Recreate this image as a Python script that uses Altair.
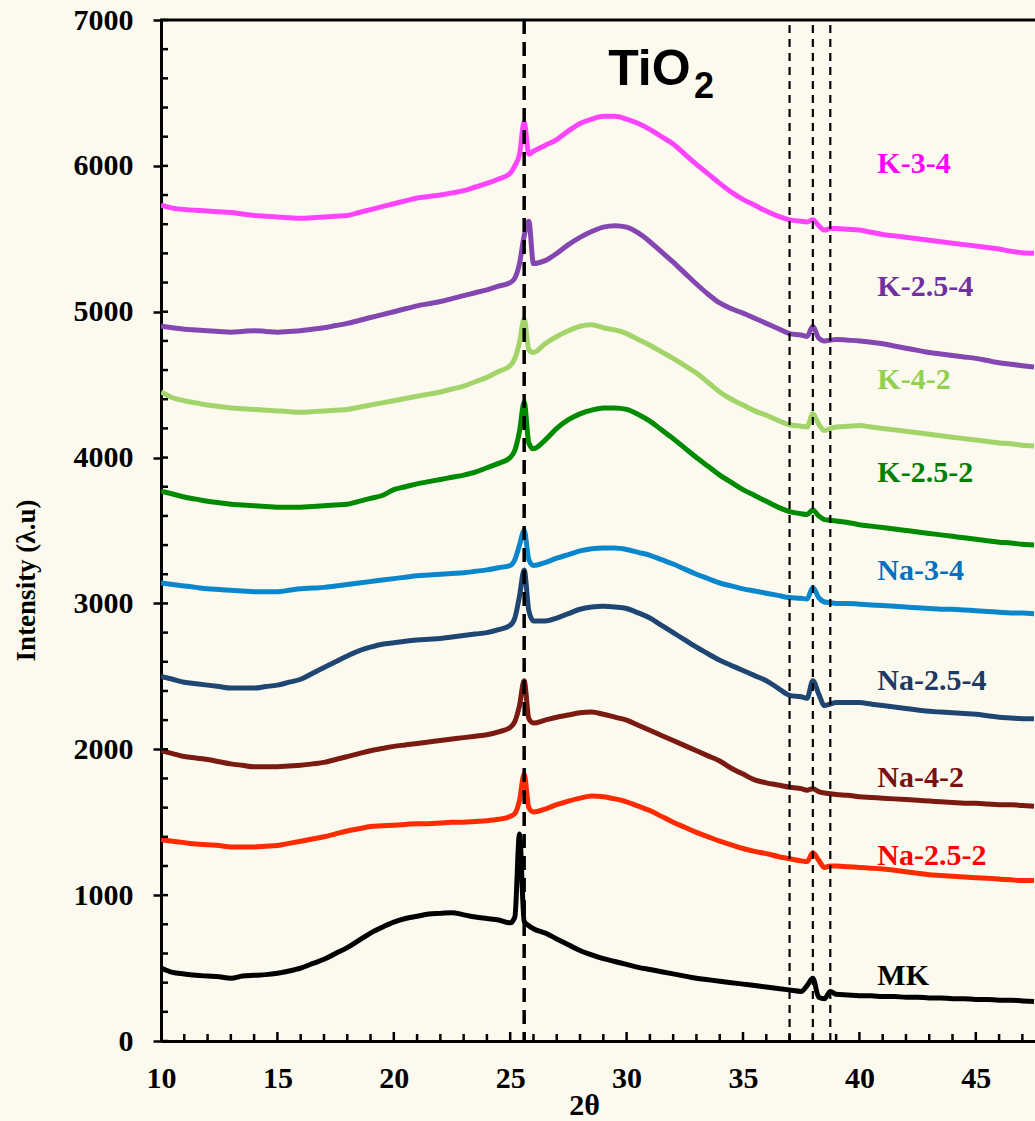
import altair as alt
import pandas as pd

# ---------------- data ----------------
X_DEG = ([10 + 0.5 * i for i in range(31)] + [25.2, 25.4, 25.6, 25.8, 26.0]
         + [26.5 + 0.5 * i for i in range(23)] + [37.75, 38.0, 38.25, 38.5, 38.75]
         + [39 + 0.5 * i for i in range(18)])

MK = [500, 470, 460, 450, 445, 440, 430, 445, 450, 455, 465, 480, 500, 530, 560, 600, 640, 690, 740, 780, 815, 840, 855, 870, 875, 880, 865, 850, 840, 830, 810,
      850, 1420, 820, 790, 770,
      740, 700, 660, 620, 590, 565, 545, 525, 505, 490, 475, 460, 445, 430, 420, 410, 400, 390, 380, 370, 360, 350, 340,
      380, 430, 300, 290, 340,
      320, 315, 310, 310, 305, 305, 300, 300, 295, 295, 290, 290, 285, 285, 280, 280, 275, 270]

NA_25_2 = [1380, 1370, 1360, 1350, 1345, 1340, 1330, 1330, 1330, 1335, 1340, 1355, 1370, 1385, 1400, 1420, 1440, 1455, 1470, 1475, 1480, 1485, 1490, 1490, 1495, 1500, 1500, 1505, 1510, 1520, 1540,
           1560, 1650, 1830, 1600, 1570,
           1590, 1620, 1645, 1665, 1680, 1675, 1660, 1640, 1610, 1580, 1540, 1500, 1465, 1430, 1400, 1370, 1345, 1320, 1300, 1285, 1265, 1250, 1235,
           1230, 1290, 1240, 1190, 1200,
           1200, 1195, 1190, 1185, 1180, 1170, 1160, 1150, 1140, 1135, 1130, 1125, 1120, 1115, 1110, 1105, 1100, 1100]

NA_4_2 = [1990, 1970, 1950, 1940, 1930, 1915, 1900, 1890, 1880, 1880, 1880, 1885, 1890, 1900, 1910, 1930, 1950, 1970, 1990, 2005, 2020, 2030, 2040, 2050, 2060, 2070, 2080, 2090, 2100, 2120, 2150,
          2190, 2300, 2470, 2210, 2180,
          2200, 2220, 2235, 2250, 2255, 2240, 2220, 2200, 2165, 2130, 2095, 2060, 2025, 1990, 1955, 1920, 1870, 1830, 1790, 1770, 1755, 1740, 1730,
          1720, 1730, 1710, 1700, 1695,
          1690, 1685, 1675, 1670, 1665, 1660, 1655, 1650, 1645, 1640, 1635, 1630, 1630, 1625, 1620, 1620, 1615, 1610]

NA_25_4 = [2500, 2480, 2460, 2450, 2440, 2430, 2420, 2420, 2420, 2430, 2440, 2460, 2480, 2520, 2560, 2600, 2640, 2675, 2700, 2720, 2730, 2740, 2750, 2755, 2760, 2770, 2780, 2790, 2800, 2820, 2850,
           2900, 3050, 3230, 2950, 2880,
           2880, 2900, 2930, 2960, 2975, 2980, 2975, 2965, 2935, 2900, 2850, 2800, 2750, 2700, 2655, 2610, 2575, 2540, 2505, 2470, 2420, 2370, 2360,
           2350, 2470, 2380, 2300, 2310,
           2320, 2320, 2320, 2310, 2300, 2290, 2280, 2270, 2260, 2255, 2250, 2245, 2240, 2230, 2220, 2215, 2210, 2210]

NA_3_4 = [3140, 3130, 3120, 3110, 3100, 3095, 3090, 3085, 3080, 3080, 3080, 3090, 3100, 3105, 3110, 3120, 3130, 3140, 3150, 3160, 3170, 3180, 3190, 3195, 3200, 3205, 3210, 3220, 3230, 3245, 3260,
          3300, 3400, 3500, 3300, 3260,
          3280, 3310, 3335, 3360, 3375, 3380, 3380, 3370, 3350, 3330, 3300, 3270, 3235, 3200, 3170, 3140, 3120, 3100, 3085, 3070, 3055, 3040, 3035,
          3030, 3110, 3040, 3010, 3005,
          3000, 3000, 2995, 2990, 2985, 2980, 2975, 2970, 2965, 2960, 2960, 2955, 2950, 2945, 2940, 2935, 2935, 2930]

K_25_2 = [3770, 3750, 3730, 3715, 3700, 3690, 3680, 3675, 3670, 3665, 3660, 3660, 3660, 3665, 3670, 3675, 3680, 3700, 3720, 3740, 3780, 3800, 3820, 3835, 3850, 3865, 3880, 3900, 3930, 3960, 4000,
          4050, 4180, 4380, 4100, 4060,
          4120, 4200, 4260, 4300, 4325, 4340, 4340, 4330, 4295, 4250, 4190, 4130, 4065, 4000, 3940, 3880, 3830, 3780, 3740, 3700, 3660, 3630, 3615,
          3610, 3640, 3600, 3575, 3570,
          3565, 3555, 3540, 3530, 3520, 3510, 3500, 3490, 3480, 3470, 3460, 3450, 3440, 3430, 3420, 3415, 3405, 3400]

K_4_2 = [4450, 4410, 4390, 4375, 4360, 4350, 4340, 4335, 4330, 4325, 4320, 4315, 4310, 4315, 4320, 4325, 4330, 4345, 4360, 4375, 4390, 4405, 4420, 4435, 4450, 4470, 4490, 4520, 4550, 4590, 4630,
         4680, 4790, 4950, 4740, 4720,
         4780, 4830, 4870, 4900, 4910, 4890, 4875, 4850, 4810, 4770, 4725, 4680, 4630, 4580, 4515, 4450, 4400, 4360, 4320, 4290, 4255, 4225, 4215,
         4210, 4300, 4230, 4185, 4200,
         4210, 4215, 4220, 4210, 4200, 4190, 4180, 4170, 4160, 4150, 4140, 4130, 4120, 4110, 4100, 4095, 4085, 4080]

K_25_4 = [4900, 4890, 4880, 4875, 4870, 4865, 4860, 4865, 4870, 4865, 4860, 4865, 4870, 4880, 4890, 4905, 4920, 4940, 4960, 4980, 5000, 5020, 5040, 5055, 5070, 5090, 5110, 5130, 5150, 5175, 5200,
          5230, 5330, 5520, 5620, 5330,
          5350, 5400, 5460, 5510, 5550, 5580, 5590, 5580, 5540, 5480, 5410, 5340, 5265, 5190, 5120, 5060, 5020, 4990, 4955, 4920, 4885, 4850, 4840,
          4830, 4900, 4820, 4800, 4805,
          4810, 4805, 4800, 4790, 4780, 4765, 4750, 4735, 4720, 4710, 4700, 4690, 4680, 4665, 4650, 4640, 4630, 4620]

K_3_4 = [5730, 5710, 5700, 5695, 5690, 5685, 5680, 5670, 5660, 5655, 5650, 5645, 5640, 5645, 5650, 5655, 5660, 5680, 5700, 5720, 5740, 5760, 5780, 5790, 5800, 5815, 5830, 5855, 5880, 5910, 5950,
         6000, 6080, 6300, 6080, 6100,
         6140, 6180, 6240, 6290, 6320, 6340, 6340, 6320, 6290, 6250, 6200, 6150, 6080, 6010, 5945, 5880, 5820, 5770, 5730, 5690, 5655, 5630, 5620,
         5615, 5630, 5590, 5560, 5570,
         5570, 5565, 5560, 5545, 5530, 5520, 5510, 5500, 5490, 5480, 5470, 5460, 5450, 5440, 5430, 5415, 5405, 5400]

SERIES_NAMES = ["MK", "Na-2.5-2", "Na-4-2", "Na-2.5-4", "Na-3-4", "K-2.5-2", "K-4-2", "K-2.5-4", "K-3-4"]
SERIES_VALUES = [MK, NA_25_2, NA_4_2, NA_25_4, NA_3_4, K_25_2, K_4_2, K_25_4, K_3_4]
LINE_COLORS = ["#000000", "#FF2A00", "#7A1A10", "#1F4672", "#0A86CC", "#008A00", "#A2D46A", "#8446B0", "#FF44FF"]
LINE_WIDTHS = [5, 5, 5, 5.5, 5, 5.5, 6, 6, 3]
LABEL_COLORS = ["#000000", "#FF0000", "#7B1010", "#1F3864", "#0070C0", "#008000", "#92D050", "#7030A0", "#FF00FF"]
LABEL_Y = [384, 1207, 1742, 2407, 3161, 3833, 4471, 5109, 5952]
LABEL_X = 40.77

TIO2_PEAK_X = [25.6]
ANATASE_X = [37.0, 38.0, 38.75]
X_LABEL_TICKS = [10, 15, 20, 25, 30, 35, 40, 45]
Y_MAJOR = [0, 1000, 2000, 3000, 4000, 5000, 6000, 7000]
Y_MINOR = list(range(0, 7001, 200))
X_MINOR = [v for v in range(11, 48) if v % 5 != 0]
X_MID = [15, 20, 25, 30, 35, 40, 45]

# ---------------- layout ----------------
W, H = 874, 1021
X_MAX = 10 + W / 23.28
SERIF = "Liberation Serif"

rows = []
for name, vals in zip(SERIES_NAMES, SERIES_VALUES):
    assert len(vals) == len(X_DEG), (name, len(vals))
    for i, (xv, yv) in enumerate(zip(X_DEG, vals)):
        rows.append({"x": xv, "y": yv, "series": name, "o": i})
df = pd.DataFrame(rows)

xs = alt.Scale(domain=[10, X_MAX], nice=False, zero=False)
ys = alt.Scale(domain=[0, 7000], nice=False, zero=True)

x_axis = alt.Axis(orient="bottom", values=X_LABEL_TICKS, ticks=False, grid=False, domainColor="black", domainWidth=3,
                  labelFont=SERIF, labelFontSize=30, labelFontWeight="bold", labelColor="black",
                  labelPadding=22, labelFlush=False, format="d",
                  title="2θ", titleFont=SERIF, titleFontSize=30, titleFontWeight="bold", titleColor="black",
                  titleX=423, titleY=73, titleBaseline="alphabetic", titleAlign="center", titleAnchor="start")
y_axis = alt.Axis(orient="left", values=Y_MAJOR, tickSize=8, tickWidth=2.5, tickColor="black", grid=False,
                  domainColor="black", domainWidth=3, format="d",
                  labelFont=SERIF, labelFontSize=30, labelFontWeight="bold", labelColor="black",
                  labelPadding=20, labelFlush=False,
                  title="Intensity (λ.u)", titleFont=SERIF, titleFontSize=27, titleFontWeight="bold",
                  titleColor="black", titleX=-135, titleY=560, titleAngle=270,
                  titleBaseline="middle", titleAlign="center", titleAnchor="start")

lines = alt.Chart(df).mark_line(interpolate="monotone", clip=True).encode(
    x=alt.X("x:Q", scale=xs, axis=x_axis),
    y=alt.Y("y:Q", scale=ys, axis=y_axis),
    color=alt.Color("series:N", scale=alt.Scale(domain=SERIES_NAMES, range=LINE_COLORS), legend=None),
    strokeWidth=alt.StrokeWidth("series:N", scale=alt.Scale(domain=SERIES_NAMES, range=LINE_WIDTHS), legend=None),
    order="o:Q",
)

lab_df = pd.DataFrame({"x": [LABEL_X] * len(SERIES_NAMES), "y": LABEL_Y, "series": SERIES_NAMES})
labels = alt.Chart(lab_df).mark_text(font=SERIF, fontSize=30, fontWeight="bold", align="left",
                                     baseline="alphabetic").encode(
    x=alt.X("x:Q", scale=xs, axis=None),
    y=alt.Y("y:Q", scale=ys, axis=None),
    text="series:N",
    color=alt.Color("series:N", scale=alt.Scale(domain=SERIES_NAMES, range=LABEL_COLORS), legend=None),
)

ymin_df = pd.DataFrame({"y": Y_MINOR})
ytick = alt.Chart(ymin_df).mark_rule(color="black", strokeWidth=2.5).encode(
    y=alt.Y("y:Q", scale=ys, axis=None), x=alt.value(0), x2=alt.value(7))

xmin_df = pd.DataFrame({"x": X_MINOR})
xtick = alt.Chart(xmin_df).mark_rule(color="black", strokeWidth=2.5).encode(
    x=alt.X("x:Q", scale=xs, axis=None), y=alt.value(H), y2=alt.value(H - 7))
xmid_df = pd.DataFrame({"x": X_MID})
xtick2 = alt.Chart(xmid_df).mark_rule(color="black", strokeWidth=2.5).encode(
    x=alt.X("x:Q", scale=xs, axis=None), y=alt.value(H), y2=alt.value(H - 9))

top = alt.Chart(pd.DataFrame({"k": [0]})).mark_rule(color="black", strokeWidth=3).encode(
    x=alt.value(-1), x2=alt.value(W), y=alt.value(0))

thick = alt.Chart(pd.DataFrame({"x": TIO2_PEAK_X})).mark_rule(
    color="black", strokeWidth=3.5, strokeDash=[14, 8]).encode(
    x=alt.X("x:Q", scale=xs, axis=None), y=alt.value(0), y2=alt.value(H))
thin = alt.Chart(pd.DataFrame({"x": ANATASE_X})).mark_rule(
    color="black", strokeWidth=2.2, strokeDash=[8, 6]).encode(
    x=alt.X("x:Q", scale=xs, axis=None), y=alt.value(5), y2=alt.value(H))

tio = alt.Chart(pd.DataFrame({"x": [29.21], "y": [6556], "t": ["TiO"]})).mark_text(
    font="Liberation Sans", fontSize=50, fontWeight="bold", align="left", baseline="alphabetic",
    color="black").encode(x=alt.X("x:Q", scale=xs, axis=None), y=alt.Y("y:Q", scale=ys, axis=None), text="t:N")
sub = alt.Chart(pd.DataFrame({"x": [32.9], "y": [6467], "t": ["2"]})).mark_text(
    font="Liberation Sans", fontSize=36, fontWeight="bold", align="left", baseline="alphabetic",
    color="black").encode(x=alt.X("x:Q", scale=xs, axis=None), y=alt.Y("y:Q", scale=ys, axis=None), text="t:N")

chart = alt.layer(lines, labels, ytick, xtick, xtick2, top, thick, thin, tio, sub).resolve_scale(
    color="independent"
).resolve_axis(
    x="independent", y="independent"
).properties(
    width=W, height=H,
    autosize=alt.AutoSizeParams(type="none"),
    padding={"left": 161, "top": 20, "right": 0, "bottom": 80},
    background="#FCFAEE",
).configure_view(stroke=None)

chart.save("out.html", embed_options={"renderer": "svg", "actions": False})
